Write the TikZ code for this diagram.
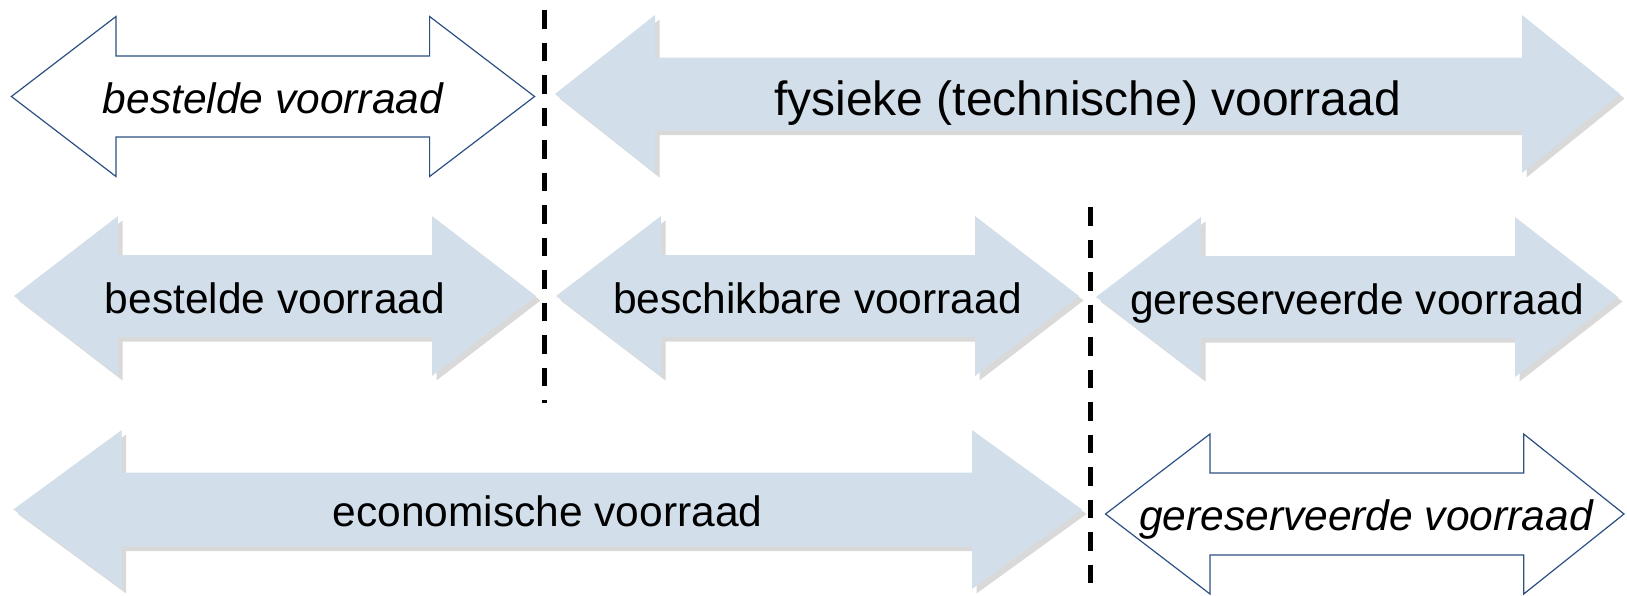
\documentclass[tikz,border=0pt]{standalone}
\usepackage{fontspec}
\setmainfont{Liberation Sans}
\definecolor{arrowblue}{RGB}{210,223,234}
\definecolor{arrowshadow}{RGB}{217,217,217}
\definecolor{outlineblue}{RGB}{45,80,130}
% #1 style, #2 left tip x, #3 left head back x, #4 right head back x, #5 right tip x, #6 centre y, #7 head half height, #8 shaft half height
\newcommand\dbarrow[8]{%
  \path[#1] (#2,#6) -- (#3,#6-#7) -- (#3,#6-#8) -- (#4,#6-#8) -- (#4,#6-#7) -- (#5,#6)
    -- (#4,#6+#7) -- (#4,#6+#8) -- (#3,#6+#8) -- (#3,#6+#7) -- cycle;}
\newcommand\bluearrow[7]{%
  \dbarrow{fill=arrowshadow,shift={(4.5,4.5)}}{#1}{#2}{#3}{#4}{#5}{#6}{#7}%
  \dbarrow{fill=arrowblue}{#1}{#2}{#3}{#4}{#5}{#6}{#7}}
\begin{document}
\begin{tikzpicture}[x=0.5pt,y=-0.5pt,
  whitearrow/.style={fill=white,draw=outlineblue,line width=0.6pt,line join=miter},
  lbl/.style={anchor=base,inner sep=0pt,font=\fontsize{21.25}{25}\selectfont},
  lblit/.style={lbl,font=\fontsize{21.25}{25}\selectfont\itshape},
  biglbl/.style={anchor=base,inner sep=0pt,font=\fontsize{24}{28}\selectfont},
  divider/.style={line width=2.5pt,dash pattern=on 9.25pt off 7pt}]
\useasboundingbox (0,0) rectangle (1627,595);
% row 1
\dbarrow{whitearrow}{11.4}{116}{429.6}{534.6}{96.5}{80}{40.5}
\bluearrow{555}{655}{1522}{1620}{94}{79}{36.5}
% row 2
\bluearrow{14}{118}{432}{536}{296}{80}{41}
\bluearrow{556}{661}{975}{1079}{296}{80}{41}
\bluearrow{1096}{1201}{1515}{1618}{297}{80}{41}
% row 3
\bluearrow{13.3}{121.7}{972}{1082}{509.5}{79.5}{37}
\dbarrow{whitearrow}{1105.5}{1210}{1523.7}{1624}{514}{80}{41}
% labels
\node[lblit] (t1) at (273,113.5) {bestelde voorraad};
\node[biglbl] (t2) at (1087.5,115) {fysieke (technische) voorraad};
\node[lbl] (t3) at (275,313) {bestelde voorraad};
\node[lbl] (t4) at (817.5,313) {beschikbare voorraad};
\node[lbl] (t5) at (1357,314) {gereserveerde voorraad};
\node[lbl] (t6) at (547.5,526.5) {economische voorraad};
\node[lblit] (t7) at (1366,530) {gereserveerde voorraad};
% dividers
\coordinate (d1a) at (544,10);
\coordinate (d1b) at (544,403);
\coordinate (d2a) at (1090,207);
\coordinate (d2b) at (1090,583);
\draw[divider] (d1a) -- (d1b);
\draw[divider] (d2a) -- (d2b);
\end{tikzpicture}
\end{document}
